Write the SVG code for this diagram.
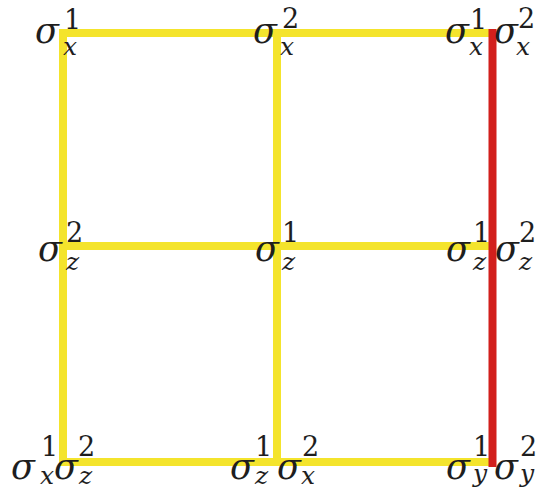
<svg xmlns="http://www.w3.org/2000/svg" width="540" height="489" viewBox="0 0 540 489">
<style>
.y{stroke:#f4e42c;stroke-width:8;stroke-linecap:square;fill:none}
.r{stroke:#d21f1c;stroke-width:8;fill:none}
.s,.n,.v{font-family:"DejaVu Serif","Liberation Serif",serif;fill:#1e1e1e}
.s{font-style:italic;font-size:35px}
.n{font-size:27px}
.v{font-style:italic;font-size:25px}
</style>
<rect width="540" height="489" fill="#ffffff"/>
<g id="connectors">
<line class="y" x1="63" y1="33" x2="277" y2="33"/>
<line class="y" x1="277" y1="33" x2="492" y2="33"/>
<line class="y" x1="63" y1="246" x2="277" y2="246"/>
<line class="y" x1="277" y1="246" x2="492" y2="246"/>
<line class="y" x1="63" y1="462" x2="277" y2="462"/>
<line class="y" x1="277" y1="462" x2="492" y2="462"/>
<line class="y" x1="63" y1="33" x2="63" y2="246"/>
<line class="y" x1="63" y1="246" x2="63" y2="462"/>
<line class="y" x1="277" y1="33" x2="277" y2="246"/>
<line class="y" x1="277" y1="246" x2="277" y2="462"/>
<line class="r" x1="492.5" y1="29" x2="492.5" y2="246"/>
<line class="r" x1="492.5" y1="246" x2="492.5" y2="467"/>
</g>
<g id="n1"><text class="s" x="35" y="43">σ</text><text class="n" x="64" y="29">1</text><text class="v" x="63" y="55">x</text></g>
<g id="n2"><text class="s" x="253" y="43">σ</text><text class="n" x="282" y="28">2</text><text class="v" x="280" y="55">x</text></g>
<g id="n3"><text class="s" x="445" y="43">σ</text><text class="n" x="470" y="29">1</text><text class="v" x="469" y="55">x</text><text class="s" x="494" y="43">σ</text><text class="n" x="518" y="28">2</text><text class="v" x="516" y="55">x</text></g>
<g id="n4"><text class="s" x="38" y="261">σ</text><text class="n" x="66" y="242">2</text><text class="v" x="66" y="270">z</text></g>
<g id="n5"><text class="s" x="255" y="261">σ</text><text class="n" x="282" y="242">1</text><text class="v" x="282" y="270">z</text></g>
<g id="n6"><text class="s" x="446" y="261">σ</text><text class="n" x="473" y="242">1</text><text class="v" x="473" y="270">z</text><text class="s" x="495" y="261">σ</text><text class="n" x="519" y="242">2</text><text class="v" x="519" y="270">z</text></g>
<g id="n7"><text class="s" x="11" y="479">σ</text><text class="n" x="41" y="456">1</text><text class="v" x="40" y="484">x</text><text class="s" x="54" y="479">σ</text><text class="n" x="78" y="456">2</text><text class="v" x="79" y="484">z</text></g>
<g id="n8"><text class="s" x="230" y="479">σ</text><text class="n" x="255" y="456">1</text><text class="v" x="255" y="484">z</text><text class="s" x="277" y="479">σ</text><text class="n" x="302" y="456">2</text><text class="v" x="301" y="484">x</text></g>
<g id="n9"><text class="s" x="446" y="479">σ</text><text class="n" x="473" y="456">1</text><text class="v" x="473" y="482">y</text><text class="s" x="494" y="479">σ</text><text class="n" x="520" y="456">2</text><text class="v" x="520" y="482">y</text></g>
</svg>
